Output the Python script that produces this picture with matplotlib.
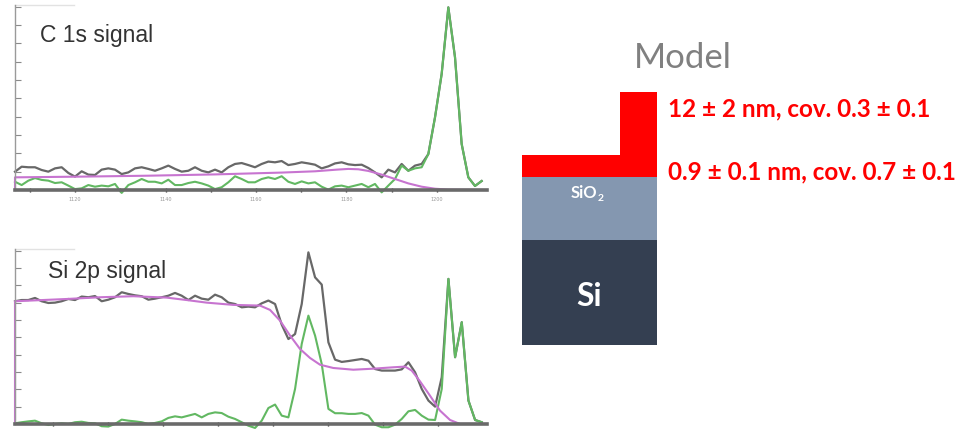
import matplotlib

matplotlib.use("Agg")
import matplotlib.pyplot as plt
import numpy as np
from matplotlib.patches import Rectangle

# ---- C 1s panel (even energy grid, arbitrary intensity units) ----
C1S_START, C1S_STEP = 1106.74, 1.4733
c1s_measured = [
    10.0, 12.7, 12.4, 12.4, 10.9, 10.0, 11.8, 12.4, 9.3, 7.3,
    10.2, 8.4, 8.2, 11.1, 11.8, 11.1, 8.7, 9.6, 11.8, 12.4,
    11.5, 10.5, 11.8, 13.3, 11.5, 10.0, 10.5, 12.4, 10.5, 9.6,
    11.1, 9.6, 12.4, 14.2, 14.7, 13.6, 12.4, 14.2, 15.5, 15.1,
    15.8, 13.6, 14.2, 15.1, 14.5, 13.8, 11.8, 12.9, 14.5, 15.1,
    14.0, 13.6, 13.8, 12.0, 9.6, 6.9, 11.1, 9.6, 14.2, 10.5,
    13.3, 14.2, 19.6, 39.6, 63.3, 99.6, 72.4, 25.1, 6.9, 2.2, 4.9,
]
c1s_peak = [
    4.5, 2.7, 5.1, 6.5, 5.5, 5.1, 3.8, 4.2, 2.4, 0.5,
    0.9, 2.7, 1.8, 2.4, 2.0, 3.3, -1.6, 2.7, 4.2, 6.0,
    4.5, 4.5, 3.6, 5.6, 2.7, 2.7, 3.8, 4.5, 3.6, 2.4,
    0.5, 1.5, 4.2, 7.5, 6.0, 4.2, 4.2, 6.0, 6.9, 6.0,
    7.5, 4.5, 3.3, 4.7, 3.6, 4.2, 1.8, 0.2, 2.0, 2.4,
    1.5, 2.4, 3.3, 1.5, 3.3, -1.3, 2.4, 6.0, 13.3, 10.5,
    11.8, 12.4, 19.6, 39.6, 63.3, 99.6, 72.4, 25.1, 6.9, 2.2, 4.9,
]
c1s_bg_energy = [1106.74, 1106.74, 1121.47, 1136.21, 1150.94, 1165.67, 1173.04, 1177.83,
                 1180.41, 1182.62, 1184.82, 1187.77, 1190.72, 1193.66, 1196.61, 1199.56,
                 1202.50, 1211.05]
c1s_bg = [0.0, 6.9, 7.3, 7.8, 8.5, 9.5, 10.2, 11.1,
          11.5, 11.3, 10.4, 8.4, 6.0, 3.6, 1.8, 0.7,
          0.2, 0.0]

# ---- Si 2p panel ----
SI2P_START, SI2P_STEP = 1331.52, 0.60606
si2p_measured = [
    70.8, 71.5, 71.5, 72.7, 70.8, 69.8, 70.0, 70.8, 72.1, 71.5,
    73.5, 73.1, 73.8, 70.8, 71.7, 73.1, 76.0, 75.0, 74.2, 73.7,
    71.7, 72.3, 73.1, 74.0, 75.6, 74.0, 71.5, 74.0, 72.3, 71.7,
    74.6, 73.1, 70.0, 69.2, 67.3, 67.7, 67.3, 69.6, 71.2, 69.2,
    57.3, 49.0, 51.9, 69.2, 99.0, 84.6, 80.4, 47.1, 37.1, 35.8,
    36.3, 36.9, 37.5, 36.5, 31.7, 30.8, 30.8, 30.8, 31.5, 35.6,
    29.8, 20.2, 13.5, 10.0, 27.0, 83.7, 38.5, 58.7, 13.5, 2.3, 1.0,
]
si2p_peak = [
    0.4, 1.0, 1.5, 1.9, 0.4, -0.6, 0.0, 0.4, 0.0, 1.0,
    1.3, 0.6, 0.4, -1.3, -1.5, 0.0, 2.5, 1.9, 1.5, 1.0,
    0.0, 0.6, 1.5, 3.5, 4.4, 3.8, 4.8, 5.8, 3.8, 5.8,
    6.7, 6.3, 4.2, 2.9, 1.0, -1.0, -2.3, 1.9, 9.2, 11.2,
    4.8, 3.8, 20.2, 46.2, 62.5, 51.0, 34.6, 8.7, 6.2, 6.2,
    5.8, 5.8, 6.3, 4.8, -0.4, -1.9, -1.9, -0.4, 2.9, 7.3,
    8.1, 4.8, 2.5, 2.3, 20.2, 83.7, 38.5, 58.7, 13.5, 2.3, 1.0,
]
si2p_bg_energy = [1331.52, 1331.52, 1336.21, 1339.24, 1342.27, 1345.30, 1347.12, 1348.94,
                  1351.36, 1353.79, 1354.70, 1355.61, 1356.52, 1357.42, 1358.33, 1359.24,
                  1360.45, 1362.27, 1364.09, 1365.91, 1366.97, 1367.58, 1368.33, 1369.24,
                  1370.15, 1371.06, 1371.97, 1374.42]
si2p_bg = [0.0, 70.8, 72.1, 73.1, 73.7, 72.9, 71.5, 70.0,
           68.7, 68.3, 65.8, 59.6, 51.0, 43.3, 38.1, 34.2,
           32.3, 31.3, 31.9, 32.7, 33.1, 30.8, 24.6, 16.3,
           7.7, 2.3, 0.0, 0.0]

c1s_labelled_ticks = [1120, 1140, 1160, 1180, 1200]
c1s_minor_ticks = [1110, 1130, 1150, 1170, 1190]
# the Si 2p tick labels fall below the picture edge, only the marks show
si2p_labelled_ticks = [1350, 1360, 1370]
si2p_minor_ticks = [1335, 1340, 1345, 1355, 1365]

# ---- model text ----
model_title = "Model"
layer_results = ["12 ± 2 nm, cov. 0.3 ± 0.1", "0.9 ± 0.1 nm, cov. 0.7 ± 0.1"]
oxide_label = "SiO"
oxide_sub = "2"
substrate_label = "Si"

MEASURED = "#4d4d4d"
PEAK = "#62b862"
BACKGROUND = "#c774d0"
W, H = 967, 431


def style_panel(ax, xlim, ylim, major, minor, show_labels, title, title_x, title_y):
    ax.set_xlim(*xlim)
    ax.set_ylim(*ylim)
    for side in ("top", "right"):
        ax.spines[side].set_visible(False)
    ax.spines["bottom"].set_position(("data", 0))
    ax.spines["bottom"].set_color("#6a6a6a")
    ax.spines["bottom"].set_linewidth(2.6)
    ax.spines["left"].set_color("#9a9a9a")
    ax.spines["left"].set_linewidth(1.0)
    ax.spines["left"].set_bounds(0, ylim[1] - 0.3)
    ax.set_yticks(np.arange(10, 101, 10))
    ax.tick_params(axis="y", direction="in", length=4, width=0.8, color="#8a8a8a", labelleft=False)
    ax.set_xticks(major)
    ax.set_xticks(minor, minor=True)
    ax.set_xticklabels([str(t) for t in major] if show_labels else [])
    ax.tick_params(axis="x", which="both", direction="inout", length=3, width=1.0, color="#333333",
                   labelsize=3.5, labelcolor="#999999", pad=3)
    ax.patch.set_alpha(0)
    ax.plot([0, 0.125], [1.0, 1.0], transform=ax.transAxes, color="#e2e2e2", lw=1, clip_on=False)
    ax.text(title_x, title_y, title, fontsize=16.5, color="#333333",
            family=["Liberation Sans", "DejaVu Sans"], va="baseline", ha="left")


def draw_traces(ax, energy, measured, peak, bg_x, bg_y):
    ax.plot(energy, measured, color=MEASURED, lw=1.6, alpha=0.85, clip_on=False)
    ax.plot(energy, peak, color=PEAK, lw=1.5, clip_on=False)
    ax.plot(bg_x, bg_y, color=BACKGROUND, lw=1.5, clip_on=False)


fig = plt.figure(figsize=(W / 100, H / 100), dpi=100)

# top panel: px rows 5.8 .. 196.5
ax_c = fig.add_axes([15 / W, 1 - 196.5 / H, 472 / W, 190.7 / H])
c1s_energy = C1S_START + C1S_STEP * np.arange(len(c1s_measured))
draw_traces(ax_c, c1s_energy, c1s_measured, c1s_peak, c1s_bg_energy, c1s_bg)
style_panel(ax_c, (1106.74, 1211.05), (-3, 101), c1s_labelled_ticks, c1s_minor_ticks, True,
            "C 1s signal", 1112.3, 81.0)

# bottom panel: px rows 249.9 .. 431.9
ax_s = fig.add_axes([15 / W, 1 - 431.9 / H, 472 / W, 182.0 / H])
si2p_energy = SI2P_START + SI2P_STEP * np.arange(len(si2p_measured))
draw_traces(ax_s, si2p_energy, si2p_measured, si2p_peak, si2p_bg_energy, si2p_bg)
style_panel(ax_s, (1331.52, 1374.42), (-4, 101), si2p_labelled_ticks, si2p_minor_ticks, False,
            "Si 2p signal", 1334.55, 84.5)

# model drawing in pixel coordinates
ax_m = fig.add_axes([0, 0, 1, 1])
ax_m.set_xlim(0, W)
ax_m.set_ylim(H, 0)
ax_m.axis("off")
ax_m.patch.set_alpha(0)

ax_m.add_patch(Rectangle((522, 241), 135, 105, color="#343f51", lw=0))
ax_m.add_patch(Rectangle((522, 178), 135, 63, color="#8497b0", lw=0))
ax_m.add_patch(Rectangle((522, 156), 135, 22, color="#ff0000", lw=0))
ax_m.add_patch(Rectangle((620, 93), 37, 85, color="#ff0000", lw=0))

ax_m.text(634, 68, model_title, fontsize=25, color="#808080", family="Lato", va="baseline")
oxide = ax_m.text(571, 198, oxide_label, fontsize=12, color="white", weight="bold",
                  family="Lato", ha="left", va="baseline")
ax_m.annotate(oxide_sub, xy=(1, 0), xycoords=oxide, xytext=(0.3, -1.5), textcoords="offset points",
              fontsize=7.5, color="white", weight="bold", family="Lato", ha="left", va="bottom")
ax_m.text(589, 306, substrate_label, fontsize=23, color="white", weight="bold",
          family="Lato", ha="center", va="baseline")
ax_m.text(668, 116, layer_results[0], fontsize=17.5, color="#ff0000", weight="bold",
          family="Lato", va="baseline")
ax_m.text(668, 179, layer_results[1], fontsize=17.5, color="#ff0000", weight="bold",
          family="Lato", va="baseline")

fig.savefig("out.png", dpi=100)
plt.close(fig)
